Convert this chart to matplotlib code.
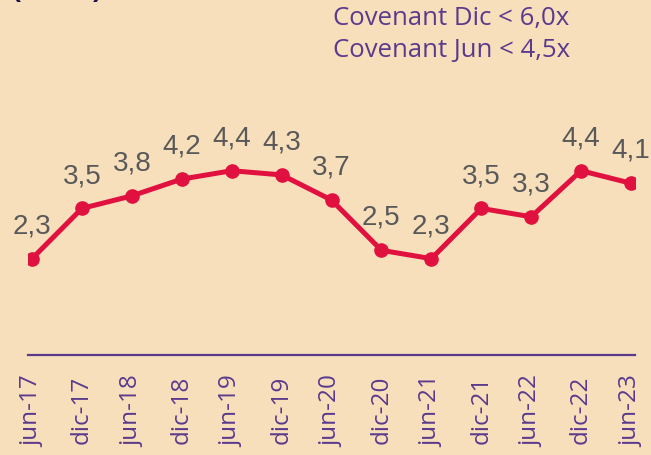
import matplotlib
matplotlib.use('Agg')
import matplotlib.pyplot as plt

periods = ['jun-17', 'dic-17', 'jun-18', 'dic-18', 'jun-19', 'dic-19', 'jun-20',
           'dic-20', 'jun-21', 'dic-21', 'jun-22', 'dic-22', 'jun-23']
ratio = [2.3, 3.5, 3.8, 4.2, 4.4, 4.3, 3.7, 2.5, 2.3, 3.5, 3.3, 4.4, 4.1]
covenants = ['Covenant Dic < 6,0x', 'Covenant Jun < 4,5x']

bg = '#F7DFBC'
purple = '#5B3A8C'
red = '#E0103F'
grey = '#595959'

fig = plt.figure(figsize=(6.51, 4.56), dpi=100, facecolor=bg)
ax = fig.add_axes([28/651, 100/456, 607/651, 356/456])
ax.set_facecolor(bg)

x = list(range(len(periods)))
ax.plot(x, ratio, color=red, lw=3.6, marker='o', markersize=9.5, zorder=3)
for xi, v in zip(x, ratio):
    ax.annotate(f'{v:.1f}'.replace('.', ','), (xi, v), xytext=(0, 24),
                textcoords='offset points', ha='center', va='center',
                fontsize=20, color=grey, family='Liberation Sans')

ax.set_xlim(-0.08, len(periods) - 1 + 0.08)
ax.set_ylim(0, 8.5)
ax.set_yticks([])
ax.set_xticks(x)
ax.set_xticklabels(periods, rotation=90, fontsize=17.5, color=purple,
                   family='Open Sans')
ax.tick_params(axis='x', length=0, pad=14)
for s in ['top', 'right', 'left']:
    ax.spines[s].set_visible(False)
ax.spines['bottom'].set_color(purple)
ax.spines['bottom'].set_linewidth(1.6)

fig.text(333/651, 1 - 19/456, covenants[0], fontsize=18.5, color=purple,
         family='Open Sans', va='center', ha='left')
fig.text(333/651, 1 - 50/456, covenants[1], fontsize=18.5, color=purple,
         family='Open Sans', va='center', ha='left')

# title cut off at the top edge, only the bottom of the brackets shows
fig.text(12/651, 1 + 3/456, '(veces)', fontsize=19, color='#21124F',
         weight='bold', family='Liberation Sans', va='baseline', ha='left')

fig.savefig('out.png', dpi=100, facecolor=bg)
